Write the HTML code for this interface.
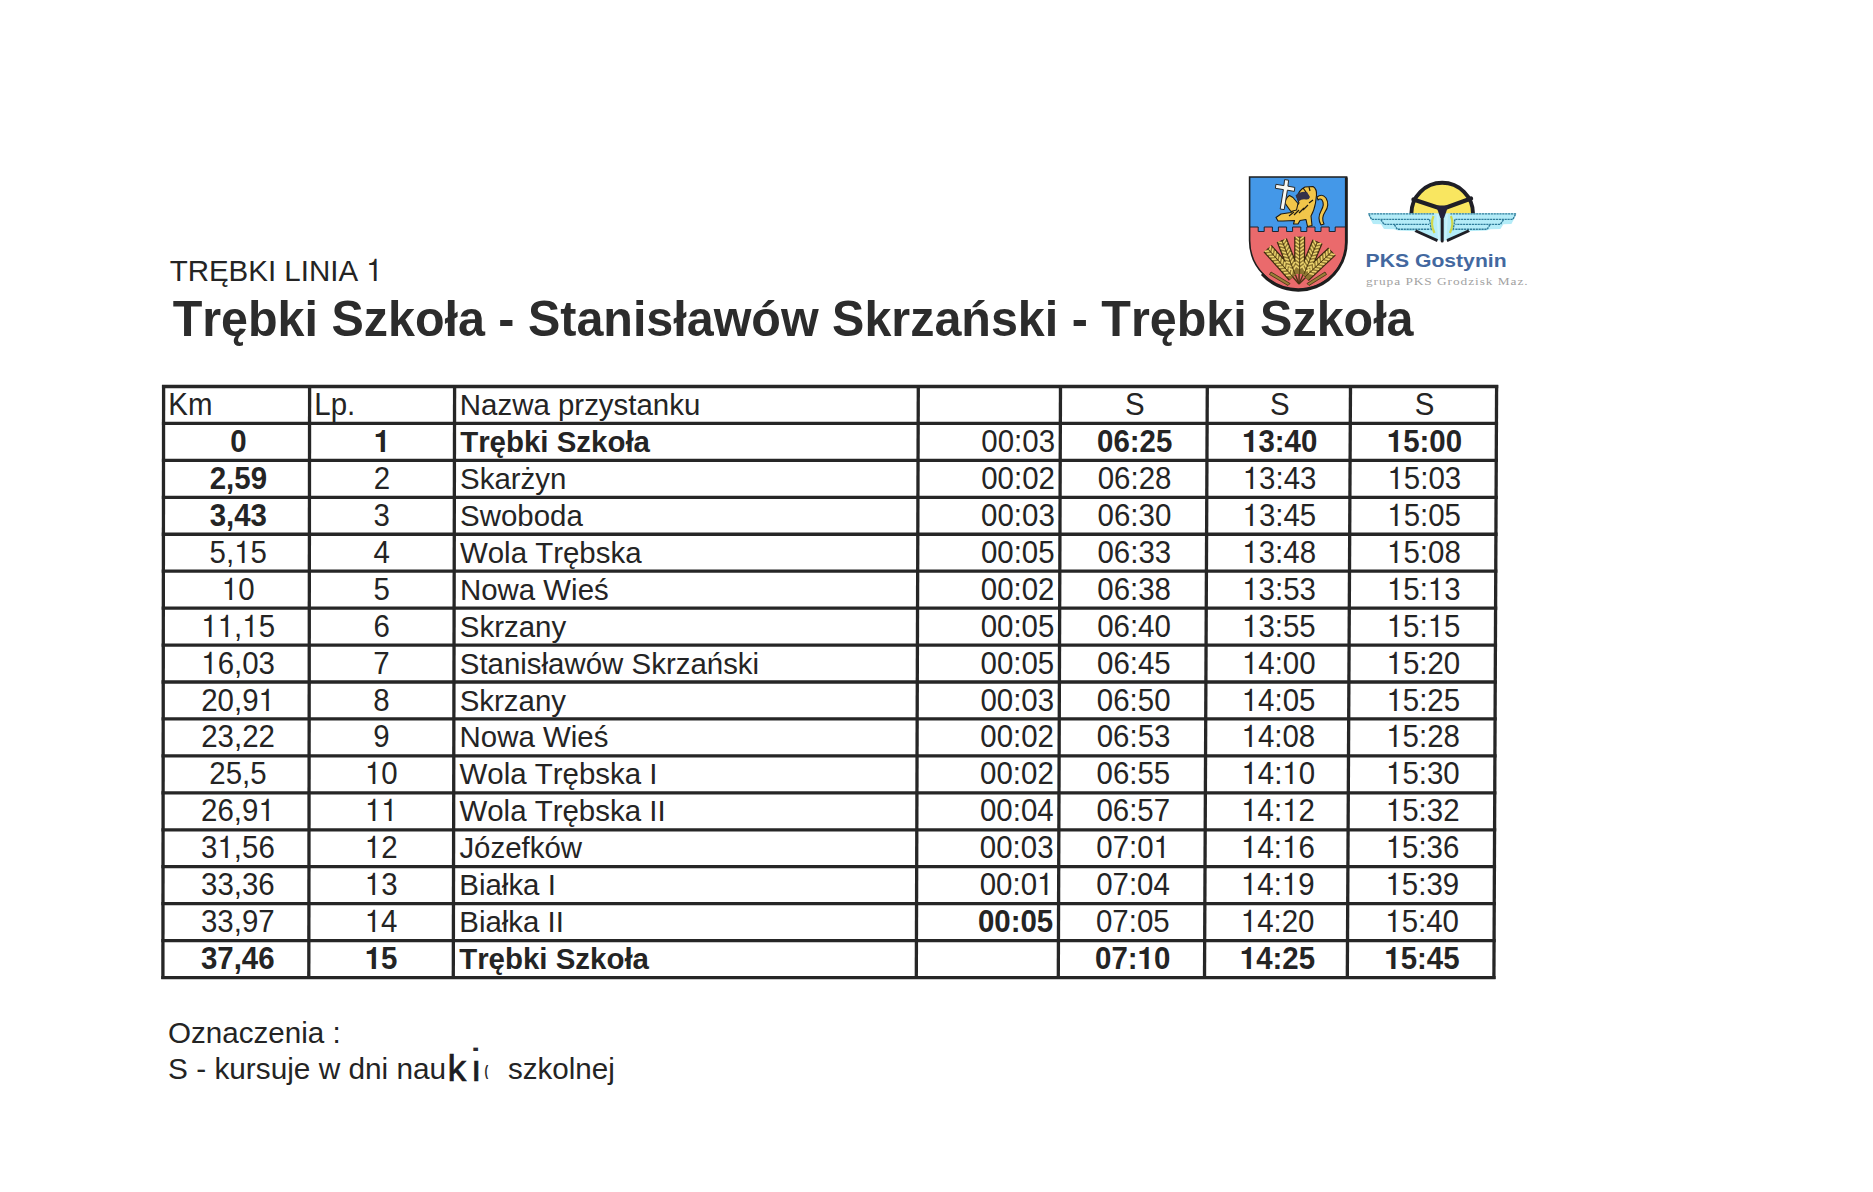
<!DOCTYPE html>
<html lang="pl"><head><meta charset="utf-8"><title>Trębki Linia 1</title>
<style>
html,body{margin:0;padding:0;background:#fff;}
body{width:1873px;height:1192px;overflow:hidden;position:relative;}
svg{position:absolute;left:0;top:0;display:block;}
text{font-family:"Liberation Sans",Arial,sans-serif;font-kerning:none;}
.one{font-family:FreeSans,"Liberation Sans",Arial,sans-serif;}
</style></head><body>
<svg width="1873" height="1192" viewBox="0 0 1873 1192">
<g stroke="#262626" stroke-width="3.3" stroke-linecap="butt">
<line x1="163.60" y1="384.90" x2="162.90" y2="979.10"/>
<line x1="309.60" y1="384.90" x2="308.80" y2="979.10"/>
<line x1="454.60" y1="384.90" x2="453.30" y2="979.10"/>
<line x1="918.30" y1="384.90" x2="916.30" y2="979.10"/>
<line x1="1060.50" y1="384.90" x2="1058.30" y2="979.10"/>
<line x1="1207.30" y1="384.90" x2="1204.50" y2="979.10"/>
<line x1="1350.50" y1="384.90" x2="1347.30" y2="979.10"/>
<line x1="1496.60" y1="384.90" x2="1493.90" y2="979.10"/>
<line x1="161.95" y1="386.50" x2="1498.24" y2="386.50"/>
<line x1="161.90" y1="423.44" x2="1498.07" y2="423.44"/>
<line x1="161.86" y1="460.38" x2="1497.91" y2="460.38"/>
<line x1="161.82" y1="497.32" x2="1497.74" y2="497.32"/>
<line x1="161.77" y1="534.26" x2="1497.57" y2="534.26"/>
<line x1="161.73" y1="571.20" x2="1497.40" y2="571.20"/>
<line x1="161.69" y1="608.14" x2="1497.24" y2="608.14"/>
<line x1="161.64" y1="645.08" x2="1497.07" y2="645.08"/>
<line x1="161.60" y1="682.02" x2="1496.90" y2="682.02"/>
<line x1="161.56" y1="718.96" x2="1496.73" y2="718.96"/>
<line x1="161.51" y1="755.90" x2="1496.56" y2="755.90"/>
<line x1="161.47" y1="792.84" x2="1496.40" y2="792.84"/>
<line x1="161.43" y1="829.78" x2="1496.23" y2="829.78"/>
<line x1="161.38" y1="866.72" x2="1496.06" y2="866.72"/>
<line x1="161.34" y1="903.66" x2="1495.89" y2="903.66"/>
<line x1="161.30" y1="940.60" x2="1495.72" y2="940.60"/>
<line x1="161.25" y1="977.54" x2="1495.56" y2="977.54"/>
</g>
<g fill="#242424">
<text transform="translate(169.64 280.80) scale(1 1.030)" font-size="29.50" font-weight="normal">TRĘBKI LINIA <tspan class="one">1</tspan></text>
<text transform="translate(172.66 335.70) scale(1 1.020)" font-size="48.45" font-weight="bold" fill="#2c2c2c">Trębki Szkoła - Stanisławów Skrzański - Trębki Szkoła</text>
<text transform="translate(168.35 415.00) scale(1 1.045)" font-size="29.45" font-weight="normal">Km</text>
<text transform="translate(314.34 415.00) scale(1 1.045)" font-size="29.45" font-weight="normal">Lp.</text>
<text transform="translate(459.83 415.00) scale(1 1.015)" font-size="29.45" font-weight="normal">Nazwa przystanku</text>
<text transform="translate(1125.06 415.00) scale(1 1.045)" font-size="29.45" font-weight="normal">S</text>
<text transform="translate(1270.05 415.00) scale(1 1.045)" font-size="29.45" font-weight="normal">S</text>
<text transform="translate(1414.83 415.00) scale(1 1.045)" font-size="29.45" font-weight="normal">S</text>
<text transform="translate(230.23 451.94) scale(1 1.045)" font-size="29.45" font-weight="bold">0</text>
<text transform="translate(373.70 451.94) scale(1 1.045)" font-size="29.45" font-weight="bold"><tspan class="one">1</tspan></text>
<text transform="translate(460.17 451.94) scale(1 1.015)" font-size="29.45" font-weight="bold">Trębki Szkoła</text>
<text transform="translate(981.35 451.94) scale(1 1.045)" font-size="29.45" font-weight="normal">00:03</text>
<text transform="translate(1097.07 451.94) scale(1 1.045)" font-size="29.45" font-weight="bold">06:25</text>
<text transform="translate(1242.05 451.94) scale(1 1.045)" font-size="29.45" font-weight="bold"><tspan class="one">1</tspan>3:40</text>
<text transform="translate(1386.82 451.94) scale(1 1.045)" font-size="29.45" font-weight="bold"><tspan class="one">1</tspan>5:00</text>
<text transform="translate(209.71 488.88) scale(1 1.045)" font-size="29.45" font-weight="bold">2,59</text>
<text transform="translate(373.64 488.88) scale(1 1.045)" font-size="29.45" font-weight="normal">2</text>
<text transform="translate(460.10 488.88) scale(1 1.015)" font-size="29.45" font-weight="normal">Skarżyn</text>
<text transform="translate(981.22 488.88) scale(1 1.045)" font-size="29.45" font-weight="normal">00:02</text>
<text transform="translate(1097.74 488.88) scale(1 1.045)" font-size="29.45" font-weight="normal">06:28</text>
<text transform="translate(1242.70 488.88) scale(1 1.045)" font-size="29.45" font-weight="normal"><tspan class="one">1</tspan>3:43</text>
<text transform="translate(1387.45 488.88) scale(1 1.045)" font-size="29.45" font-weight="normal"><tspan class="one">1</tspan>5:03</text>
<text transform="translate(209.67 525.82) scale(1 1.045)" font-size="29.45" font-weight="bold">3,43</text>
<text transform="translate(373.57 525.82) scale(1 1.045)" font-size="29.45" font-weight="normal">3</text>
<text transform="translate(460.03 525.82) scale(1 1.015)" font-size="29.45" font-weight="normal">Swoboda</text>
<text transform="translate(981.08 525.82) scale(1 1.045)" font-size="29.45" font-weight="normal">00:03</text>
<text transform="translate(1097.59 525.82) scale(1 1.045)" font-size="29.45" font-weight="normal">06:30</text>
<text transform="translate(1242.53 525.82) scale(1 1.045)" font-size="29.45" font-weight="normal"><tspan class="one">1</tspan>3:45</text>
<text transform="translate(1387.27 525.82) scale(1 1.045)" font-size="29.45" font-weight="normal"><tspan class="one">1</tspan>5:05</text>
<text transform="translate(209.62 562.76) scale(1 1.045)" font-size="29.45" font-weight="normal">5,<tspan class="one">1</tspan>5</text>
<text transform="translate(373.51 562.76) scale(1 1.045)" font-size="29.45" font-weight="normal">4</text>
<text transform="translate(459.96 562.76) scale(1 1.015)" font-size="29.45" font-weight="normal">Wola Trębska</text>
<text transform="translate(980.94 562.76) scale(1 1.045)" font-size="29.45" font-weight="normal">00:05</text>
<text transform="translate(1097.45 562.76) scale(1 1.045)" font-size="29.45" font-weight="normal">06:33</text>
<text transform="translate(1242.37 562.76) scale(1 1.045)" font-size="29.45" font-weight="normal"><tspan class="one">1</tspan>3:48</text>
<text transform="translate(1387.09 562.76) scale(1 1.045)" font-size="29.45" font-weight="normal"><tspan class="one">1</tspan>5:08</text>
<text transform="translate(221.86 599.70) scale(1 1.045)" font-size="29.45" font-weight="normal"><tspan class="one">1</tspan>0</text>
<text transform="translate(373.45 599.70) scale(1 1.045)" font-size="29.45" font-weight="normal">5</text>
<text transform="translate(459.89 599.70) scale(1 1.015)" font-size="29.45" font-weight="normal">Nowa Wieś</text>
<text transform="translate(980.81 599.70) scale(1 1.045)" font-size="29.45" font-weight="normal">00:02</text>
<text transform="translate(1097.30 599.70) scale(1 1.045)" font-size="29.45" font-weight="normal">06:38</text>
<text transform="translate(1242.21 599.70) scale(1 1.045)" font-size="29.45" font-weight="normal"><tspan class="one">1</tspan>3:53</text>
<text transform="translate(1386.92 599.70) scale(1 1.045)" font-size="29.45" font-weight="normal"><tspan class="one">1</tspan>5:<tspan class="one">1</tspan>3</text>
<text transform="translate(201.35 636.64) scale(1 1.045)" font-size="29.45" font-weight="normal"><tspan class="one">1</tspan><tspan class="one">1</tspan>,<tspan class="one">1</tspan>5</text>
<text transform="translate(373.39 636.64) scale(1 1.045)" font-size="29.45" font-weight="normal">6</text>
<text transform="translate(459.82 636.64) scale(1 1.015)" font-size="29.45" font-weight="normal">Skrzany</text>
<text transform="translate(980.67 636.64) scale(1 1.045)" font-size="29.45" font-weight="normal">00:05</text>
<text transform="translate(1097.16 636.64) scale(1 1.045)" font-size="29.45" font-weight="normal">06:40</text>
<text transform="translate(1242.05 636.64) scale(1 1.045)" font-size="29.45" font-weight="normal"><tspan class="one">1</tspan>3:55</text>
<text transform="translate(1386.74 636.64) scale(1 1.045)" font-size="29.45" font-weight="normal"><tspan class="one">1</tspan>5:<tspan class="one">1</tspan>5</text>
<text transform="translate(201.30 673.58) scale(1 1.045)" font-size="29.45" font-weight="normal"><tspan class="one">1</tspan>6,03</text>
<text transform="translate(373.33 673.58) scale(1 1.045)" font-size="29.45" font-weight="normal">7</text>
<text transform="translate(459.75 673.58) scale(1 1.015)" font-size="29.45" font-weight="normal">Stanisławów Skrzański</text>
<text transform="translate(980.53 673.58) scale(1 1.045)" font-size="29.45" font-weight="normal">00:05</text>
<text transform="translate(1097.01 673.58) scale(1 1.045)" font-size="29.45" font-weight="normal">06:45</text>
<text transform="translate(1241.89 673.58) scale(1 1.045)" font-size="29.45" font-weight="normal"><tspan class="one">1</tspan>4:00</text>
<text transform="translate(1386.56 673.58) scale(1 1.045)" font-size="29.45" font-weight="normal"><tspan class="one">1</tspan>5:20</text>
<text transform="translate(201.25 710.52) scale(1 1.045)" font-size="29.45" font-weight="normal">20,9<tspan class="one">1</tspan></text>
<text transform="translate(373.27 710.52) scale(1 1.045)" font-size="29.45" font-weight="normal">8</text>
<text transform="translate(459.68 710.52) scale(1 1.015)" font-size="29.45" font-weight="normal">Skrzany</text>
<text transform="translate(980.39 710.52) scale(1 1.045)" font-size="29.45" font-weight="normal">00:03</text>
<text transform="translate(1096.86 710.52) scale(1 1.045)" font-size="29.45" font-weight="normal">06:50</text>
<text transform="translate(1241.72 710.52) scale(1 1.045)" font-size="29.45" font-weight="normal"><tspan class="one">1</tspan>4:05</text>
<text transform="translate(1386.38 710.52) scale(1 1.045)" font-size="29.45" font-weight="normal"><tspan class="one">1</tspan>5:25</text>
<text transform="translate(201.20 747.46) scale(1 1.045)" font-size="29.45" font-weight="normal">23,22</text>
<text transform="translate(373.20 747.46) scale(1 1.045)" font-size="29.45" font-weight="normal">9</text>
<text transform="translate(459.60 747.46) scale(1 1.015)" font-size="29.45" font-weight="normal">Nowa Wieś</text>
<text transform="translate(980.26 747.46) scale(1 1.045)" font-size="29.45" font-weight="normal">00:02</text>
<text transform="translate(1096.72 747.46) scale(1 1.045)" font-size="29.45" font-weight="normal">06:53</text>
<text transform="translate(1241.56 747.46) scale(1 1.045)" font-size="29.45" font-weight="normal"><tspan class="one">1</tspan>4:08</text>
<text transform="translate(1386.20 747.46) scale(1 1.045)" font-size="29.45" font-weight="normal"><tspan class="one">1</tspan>5:28</text>
<text transform="translate(209.35 784.40) scale(1 1.045)" font-size="29.45" font-weight="normal">25,5</text>
<text transform="translate(364.95 784.40) scale(1 1.045)" font-size="29.45" font-weight="normal"><tspan class="one">1</tspan>0</text>
<text transform="translate(459.54 784.40) scale(1 1.015)" font-size="29.45" font-weight="normal">Wola Trębska I</text>
<text transform="translate(980.12 784.40) scale(1 1.045)" font-size="29.45" font-weight="normal">00:02</text>
<text transform="translate(1096.57 784.40) scale(1 1.045)" font-size="29.45" font-weight="normal">06:55</text>
<text transform="translate(1241.40 784.40) scale(1 1.045)" font-size="29.45" font-weight="normal"><tspan class="one">1</tspan>4:<tspan class="one">1</tspan>0</text>
<text transform="translate(1386.02 784.40) scale(1 1.045)" font-size="29.45" font-weight="normal"><tspan class="one">1</tspan>5:30</text>
<text transform="translate(201.11 821.34) scale(1 1.045)" font-size="29.45" font-weight="normal">26,9<tspan class="one">1</tspan></text>
<text transform="translate(364.90 821.34) scale(1 1.045)" font-size="29.45" font-weight="normal"><tspan class="one">1</tspan><tspan class="one">1</tspan></text>
<text transform="translate(459.47 821.34) scale(1 1.015)" font-size="29.45" font-weight="normal">Wola Trębska II</text>
<text transform="translate(979.98 821.34) scale(1 1.045)" font-size="29.45" font-weight="normal">00:04</text>
<text transform="translate(1096.43 821.34) scale(1 1.045)" font-size="29.45" font-weight="normal">06:57</text>
<text transform="translate(1241.24 821.34) scale(1 1.045)" font-size="29.45" font-weight="normal"><tspan class="one">1</tspan>4:<tspan class="one">1</tspan>2</text>
<text transform="translate(1385.84 821.34) scale(1 1.045)" font-size="29.45" font-weight="normal"><tspan class="one">1</tspan>5:32</text>
<text transform="translate(201.07 858.28) scale(1 1.045)" font-size="29.45" font-weight="normal">3<tspan class="one">1</tspan>,56</text>
<text transform="translate(364.83 858.28) scale(1 1.045)" font-size="29.45" font-weight="normal"><tspan class="one">1</tspan>2</text>
<text transform="translate(459.39 858.28) scale(1 1.015)" font-size="29.45" font-weight="normal">Józefków</text>
<text transform="translate(979.84 858.28) scale(1 1.045)" font-size="29.45" font-weight="normal">00:03</text>
<text transform="translate(1096.28 858.28) scale(1 1.045)" font-size="29.45" font-weight="normal">07:0<tspan class="one">1</tspan></text>
<text transform="translate(1241.08 858.28) scale(1 1.045)" font-size="29.45" font-weight="normal"><tspan class="one">1</tspan>4:<tspan class="one">1</tspan>6</text>
<text transform="translate(1385.67 858.28) scale(1 1.045)" font-size="29.45" font-weight="normal"><tspan class="one">1</tspan>5:36</text>
<text transform="translate(201.02 895.22) scale(1 1.045)" font-size="29.45" font-weight="normal">33,36</text>
<text transform="translate(364.77 895.22) scale(1 1.045)" font-size="29.45" font-weight="normal"><tspan class="one">1</tspan>3</text>
<text transform="translate(459.32 895.22) scale(1 1.015)" font-size="29.45" font-weight="normal">Białka I</text>
<text transform="translate(979.71 895.22) scale(1 1.045)" font-size="29.45" font-weight="normal">00:0<tspan class="one">1</tspan></text>
<text transform="translate(1096.13 895.22) scale(1 1.045)" font-size="29.45" font-weight="normal">07:04</text>
<text transform="translate(1240.91 895.22) scale(1 1.045)" font-size="29.45" font-weight="normal"><tspan class="one">1</tspan>4:<tspan class="one">1</tspan>9</text>
<text transform="translate(1385.49 895.22) scale(1 1.045)" font-size="29.45" font-weight="normal"><tspan class="one">1</tspan>5:39</text>
<text transform="translate(200.97 932.16) scale(1 1.045)" font-size="29.45" font-weight="normal">33,97</text>
<text transform="translate(364.71 932.16) scale(1 1.045)" font-size="29.45" font-weight="normal"><tspan class="one">1</tspan>4</text>
<text transform="translate(459.25 932.16) scale(1 1.015)" font-size="29.45" font-weight="normal">Białka II</text>
<text transform="translate(977.95 932.16) scale(1 1.045)" font-size="29.45" font-weight="bold">00:05</text>
<text transform="translate(1095.99 932.16) scale(1 1.045)" font-size="29.45" font-weight="normal">07:05</text>
<text transform="translate(1240.75 932.16) scale(1 1.045)" font-size="29.45" font-weight="normal"><tspan class="one">1</tspan>4:20</text>
<text transform="translate(1385.31 932.16) scale(1 1.045)" font-size="29.45" font-weight="normal"><tspan class="one">1</tspan>5:40</text>
<text transform="translate(200.93 969.10) scale(1 1.045)" font-size="29.45" font-weight="bold">37,46</text>
<text transform="translate(364.65 969.10) scale(1 1.045)" font-size="29.45" font-weight="bold"><tspan class="one">1</tspan>5</text>
<text transform="translate(459.18 969.10) scale(1 1.015)" font-size="29.45" font-weight="bold">Trębki Szkoła</text>
<text transform="translate(1095.03 969.10) scale(1 1.045)" font-size="29.45" font-weight="bold">07:<tspan class="one">1</tspan>0</text>
<text transform="translate(1239.77 969.10) scale(1 1.045)" font-size="29.45" font-weight="bold"><tspan class="one">1</tspan>4:25</text>
<text transform="translate(1384.32 969.10) scale(1 1.045)" font-size="29.45" font-weight="bold"><tspan class="one">1</tspan>5:45</text>
<text transform="translate(168.00 1043.00) scale(1 1.020)" font-size="29.60" font-weight="normal">Oznaczenia :</text>
<text transform="translate(168.05 1079.40) scale(1 1.020)" font-size="29.80" font-weight="normal">S - kursuje w dni nau</text>
<text transform="translate(507.98 1079.40) scale(1 1.020)" font-size="29.60" font-weight="normal">szkolnej</text>
<text x="0" y="0" transform="translate(447.6 1081.2)" font-size="37.5" font-family="'DejaVu Sans', sans-serif" fill="#1c1c22" stroke="#1c1c22" stroke-width="0.7" letter-spacing="4.6">kı</text><text x="0" y="0" transform="translate(470 1071.8)" font-size="34" font-family="'DejaVu Sans', sans-serif" font-weight="bold" fill="#2a2a30">˙</text><text x="0" y="0" transform="translate(484.4 1075.5) scale(0.8 1)" font-size="14" font-weight="bold" font-family="'DejaVu Sans', sans-serif" fill="#2a2a2a">(</text>
</g>
<g id="crest">
<defs><clipPath id="shieldclip"><path d="M1249.6 177 L1346.6 177 L1346.6 240.5 A48.5 48.5 0 0 1 1249.6 240.5 Z"/></clipPath></defs>
<g clip-path="url(#shieldclip)">
<rect x="1245" y="170" width="110" height="125" fill="#ea6a6c"/>
<path d="M1245 170 L1355 170 L1355 227 L1335.2 227 L1335.2 231.5 L1329.2 231.5 L1329.2 227 L1321 227 L1321 231.5 L1315 231.5 L1315 227 L1306.8 227 L1306.8 231.5 L1300.8 231.5 L1300.8 227 L1292.6 227 L1292.6 231.5 L1286.6 231.5 L1286.6 227 L1278.4 227 L1278.4 231.5 L1272.4 231.5 L1272.4 227 L1264.2 227 L1264.2 231.5 L1258.2 231.5 L1258.2 227 L1245 227 Z" fill="#4498e8" stroke="#1c2430" stroke-width="1"/>
<!-- wheat -->
<g stroke="#4a3414" stroke-width="1.4" fill="none">
<path d="M1299 284 L1267.6 248.6"/>
<path d="M1299 284 L1281.8 240.3"/>
<path d="M1299 284 L1299.7 236.7"/>
<path d="M1299 284 L1317.5 241.7"/>
<path d="M1299 284 L1332.0 251.6"/>
</g>
<g stroke-linecap="butt" fill="none">
<g stroke="#3a2a0e" stroke-width="11">
<path d="M1267.6 248.6 L1293.0 277.0"/>
<path d="M1281.8 240.3 L1295.0 274.0"/>
<path d="M1299.7 236.7 L1299.6 274.0"/>
<path d="M1317.5 241.7 L1304.0 274.0"/>
<path d="M1332.0 251.6 L1305.0 277.0"/>
</g><g stroke="#8e7632" stroke-width="8.6">
<path d="M1268.1 249.2 L1293.0 277.0"/>
<path d="M1282.1 241.0 L1295.0 274.0"/>
<path d="M1299.7 237.5 L1299.6 274.0"/>
<path d="M1317.2 242.4 L1304.0 274.0"/>
<path d="M1331.4 252.1 L1305.0 277.0"/>
</g></g>
<path d="M1269.9 249.9 L1270.5 246.4 M1268.7 251.0 L1265.1 251.2 M1272.3 252.6 L1272.9 249.1 M1271.1 253.7 L1267.5 253.9 M1274.7 255.3 L1275.3 251.8 M1273.5 256.4 L1269.9 256.6 M1277.1 258.0 L1277.7 254.5 M1275.9 259.0 L1272.3 259.3 M1279.5 260.7 L1280.1 257.2 M1278.3 261.7 L1274.7 262.0 M1281.9 263.3 L1282.5 259.8 M1280.7 264.4 L1277.1 264.6 M1284.3 266.0 L1284.9 262.5 M1283.1 267.1 L1279.5 267.3 M1286.7 268.7 L1287.3 265.2 M1285.5 269.8 L1281.9 270.0 M1289.1 271.4 L1289.7 267.9 M1287.9 272.5 L1284.3 272.7 M1291.5 274.1 L1292.1 270.6 M1290.3 275.1 L1286.7 275.4 M1283.5 242.3 L1285.3 239.3 M1282.0 242.9 L1278.6 241.9 M1284.8 245.7 L1286.6 242.6 M1283.3 246.3 L1279.9 245.2 M1286.1 249.0 L1287.9 246.0 M1284.6 249.6 L1281.2 248.6 M1287.4 252.4 L1289.2 249.3 M1285.9 253.0 L1282.5 251.9 M1288.7 255.7 L1290.5 252.7 M1287.2 256.3 L1283.8 255.3 M1290.0 259.1 L1291.8 256.0 M1288.5 259.7 L1285.1 258.7 M1291.3 262.4 L1293.1 259.4 M1289.8 263.0 L1286.4 262.0 M1292.6 265.8 L1294.5 262.7 M1291.2 266.4 L1287.7 265.4 M1294.0 269.2 L1295.8 266.1 M1292.5 269.7 L1289.1 268.7 M1300.5 239.2 L1303.3 237.0 M1298.9 239.2 L1296.1 237.0 M1300.5 242.8 L1303.3 240.6 M1298.9 242.8 L1296.1 240.6 M1300.5 246.4 L1303.3 244.2 M1298.9 246.4 L1296.1 244.2 M1300.5 250.0 L1303.3 247.8 M1298.9 250.0 L1296.1 247.8 M1300.5 253.6 L1303.3 251.4 M1298.9 253.6 L1296.1 251.4 M1300.4 257.2 L1303.3 255.0 M1298.8 257.2 L1296.1 255.0 M1300.4 260.8 L1303.2 258.6 M1298.8 260.8 L1296.0 258.6 M1300.4 264.4 L1303.2 262.2 M1298.8 264.4 L1296.0 262.2 M1300.4 268.0 L1303.2 265.8 M1298.8 268.0 L1296.0 265.8 M1317.3 244.3 L1320.7 243.4 M1315.8 243.7 L1314.1 240.6 M1315.9 247.6 L1319.3 246.7 M1314.4 247.0 L1312.7 243.9 M1314.5 251.0 L1317.9 250.0 M1313.0 250.3 L1311.3 247.2 M1313.1 254.3 L1316.5 253.3 M1311.6 253.7 L1309.9 250.6 M1311.7 257.6 L1315.2 256.7 M1310.2 257.0 L1308.5 253.9 M1310.3 260.9 L1313.8 260.0 M1308.9 260.3 L1307.1 257.2 M1308.9 264.2 L1312.4 263.3 M1307.5 263.6 L1305.7 260.5 M1307.6 267.6 L1311.0 266.6 M1306.1 266.9 L1304.3 263.8 M1306.2 270.9 L1309.6 269.9 M1304.7 270.3 L1303.0 267.2 M1330.7 253.9 L1334.2 254.4 M1329.6 252.7 L1329.3 249.2 M1328.1 256.4 L1331.6 256.9 M1327.0 255.2 L1326.7 251.7 M1325.5 258.8 L1329.0 259.4 M1324.4 257.7 L1324.1 254.1 M1322.9 261.3 L1326.4 261.8 M1321.8 260.1 L1321.4 256.6 M1320.2 263.8 L1323.8 264.3 M1319.1 262.6 L1318.8 259.1 M1317.6 266.2 L1321.1 266.8 M1316.5 265.1 L1316.2 261.5 M1315.0 268.7 L1318.5 269.2 M1313.9 267.5 L1313.6 264.0 M1312.4 271.2 L1315.9 271.7 M1311.3 270.0 L1311.0 266.5 M1309.8 273.6 L1313.3 274.2 M1308.7 272.5 L1308.3 268.9" stroke="#ecd46e" stroke-width="1.5" fill="none" stroke-linecap="round"/>
<path d="M1268.3 249.3 L1293.0 277.0 M1282.2 241.2 L1295.0 274.0 M1299.7 237.7 L1299.6 274.0 M1317.1 242.6 L1304.0 274.0 M1331.3 252.3 L1305.0 277.0" stroke="#4a3810" stroke-width="0.9" fill="none"/>
<g stroke="#3c2c10" stroke-width="0.8" fill="#9a8038">
<path d="M1271 272 L1290 283.5 L1288 285.5 L1269.5 274.5 Z"/>
<path d="M1325 272 L1307 283.5 L1309 285.5 L1326.5 274.5 Z"/>
</g>
<!-- lion -->
<g stroke="#1f1a12" stroke-width="1.1" fill="#f2c64a" stroke-linejoin="round">
<path d="M1317 197 Q1322 193 1326 198 Q1330 205 1325 212 Q1321 218 1324 224 L1321 225 Q1317 218 1321 211 Q1325 204 1322 200 Q1320 198 1318 200 Z"/>
<path d="M1276 217.5 L1281 214 L1291 212.5 Q1296 208 1299 203 L1297 197 Q1299 190 1305 187 L1313 186.5 Q1317 189 1316.5 195 L1315.5 203 Q1314 211 1311 216 L1312 225.5 L1307.5 226.5 L1306 219.5 L1300 220.5 L1298 224 L1293.5 224 L1294.5 220.5 L1283 221 L1278 221 Z"/>
<path d="M1285 203 Q1285.5 198 1289.5 195.5 L1293 197.5 L1298 203.5 L1296.5 210 L1291 211.5 Q1287.5 207 1285 203 Z"/>
</g>
<path d="M1295.5 195.5 Q1300 191 1307 192 L1310 197 Q1309 200 1306 199.5 Q1302 198.5 1298.5 201.5 Z" fill="#35324a"/>
<g stroke="#1f1a12" stroke-width="1.2" fill="none">
<path d="M1289 216 l5 -4 M1294 215 l5 -5 M1299 213 l5 -5 M1303 210 l5 -5 M1309 203 l4 -3 M1303 188 l3 4 M1309 187 l1 4"/>
</g>
<!-- cross -->
<g fill="#f7f7f2" stroke="#2a2a2a" stroke-width="1">
<path d="M1284.6 179.6 L1288.6 180.2 L1287.9 186.2 L1294.8 187.4 L1294.3 191.4 L1287.4 190.2 L1284.2 209.6 L1280.2 209 L1283.4 189.6 L1275.4 188.3 L1275.9 184.3 L1283.9 185.6 Z"/>
</g>
</g>
<path d="M1249.6 177 L1346.6 177 L1346.6 240.5 A48.5 48.5 0 0 1 1249.6 240.5 Z" fill="none" stroke="#1e1e1e" stroke-width="1.6"/>
<path d="M1346.3 177.5 L1346.3 240.5 A48.2 48.2 0 0 1 1262 274" fill="none" stroke="#1e1e1e" stroke-width="2.8"/>
</g>

<g id="pks">
<defs><clipPath id="wclip"><rect x="1400" y="170" width="90" height="62"/></clipPath></defs>
<circle cx="1442.2" cy="213.6" r="30.8" fill="#f9e660" stroke="#1f1f26" stroke-width="3.9" clip-path="url(#wclip)"/>
<!-- wings -->
<g id="lwing">
<path d="M1368.3 213.2 L1442.2 213.2 L1442.2 241 L1437 240 L1417 231.2 L1398 230.4 L1394 229.3 L1384 229 L1381 224.3 L1373 224 L1370.5 219.3 Z" fill="#b4ecf8"/>
<g stroke="#2f7c9a" stroke-width="1.4" fill="none" stroke-dasharray="2.2 0.7">
<path d="M1368.3 213.9 L1434 213.9"/>
<path d="M1369 214.5 L1371.5 219.4 L1429 219.4"/>
<path d="M1381 219.8 L1384 224.4 L1429 224.4"/>
<path d="M1394.5 224.8 L1397.2 229.2 L1430 229.2"/>
<path d="M1429.5 219.4 L1431.5 231"/>
</g>
<path d="M1415.5 230.8 L1437.5 240.6" stroke="#1f1f26" stroke-width="2.8" fill="none"/>
<path d="M1433.5 216 Q1430 224 1434.5 233" stroke="#cfd84c" stroke-width="2.2" fill="none"/>
<path d="M1437.5 214 L1439 240" stroke="#c8f2fb" stroke-width="2" fill="none"/>
</g>
<use href="#lwing" transform="translate(2884.4 0) scale(-1 1)"/>
<!-- spokes -->
<g stroke="#1f1f26" fill="none" stroke-linecap="round">
<path d="M1413.5 199.5 L1442.2 209" stroke-width="4.4"/>
<path d="M1471 198.5 L1442.2 209" stroke-width="4.4"/>
<path d="M1442.2 209 L1442.2 241" stroke-width="3"/>
</g>
<path d="M1436 205.5 L1448.5 205.5 L1444 218 L1440.4 218 Z" fill="#23213a"/>
<text x="0" y="0" font-size="18.5" font-weight="bold" fill="#43689f" transform="translate(1365.6 266.8) scale(1.144 1)">PKS Gostynin</text>
<text x="0" y="0" font-size="11.1" fill="#a2a2a2" letter-spacing="0.8" transform="translate(1366 284.8) scale(1.2 1)" style="font-family:'Liberation Serif',serif">grupa PKS Grodzisk Maz.</text>
</g>

</svg>
</body></html>
